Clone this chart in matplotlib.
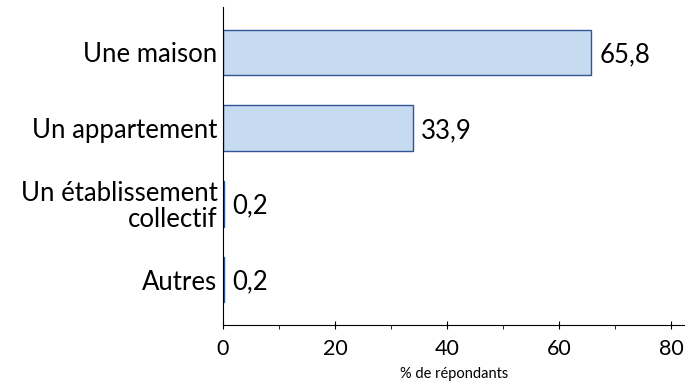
import matplotlib.pyplot as plt
import numpy as np
from matplotlib.ticker import MultipleLocator

plt.rcParams['font.family'] = ['Lato', 'DejaVu Sans']

categories = ["Une maison", "Un appartement", "Un établissement\ncollectif", "Autres"]
values = [65.8, 33.9, 0.2, 0.2]
value_labels = ["65,8", "33,9", "0,2", "0,2"]

fig = plt.figure(figsize=(6.85, 3.81), dpi=100)
ax = fig.add_axes([0.3255, 0.147, 0.6745, 0.835])

y = np.arange(len(categories))
ax.barh(y, values, height=0.6, color="#C6DAF0", edgecolor="#2F5597", linewidth=1.0)

for yi, v, lab in zip(y, values, value_labels):
    ax.text(v + 1.5, yi + 0.03, lab, va="center", ha="left", fontsize=18.5)

ax.set_ylim(3.6, -0.6)
ax.set_xlim(0, 82.5)
ax.set_yticks(y)
ax.set_yticklabels(categories, fontsize=18.5, linespacing=1.05)
ax.tick_params(axis="y", length=0, pad=4)

ax.xaxis.set_major_locator(MultipleLocator(20))
ax.xaxis.set_minor_locator(MultipleLocator(10))
ax.tick_params(axis="x", which="major", direction="inout", length=6, labelsize=15.5, pad=7)
ax.tick_params(axis="x", which="minor", direction="out", length=3)
ax.set_xlabel("% de répondants", fontsize=10.5, labelpad=6)

ax.spines["top"].set_visible(False)
ax.spines["right"].set_visible(False)

fig.savefig("out.png", dpi=100)
